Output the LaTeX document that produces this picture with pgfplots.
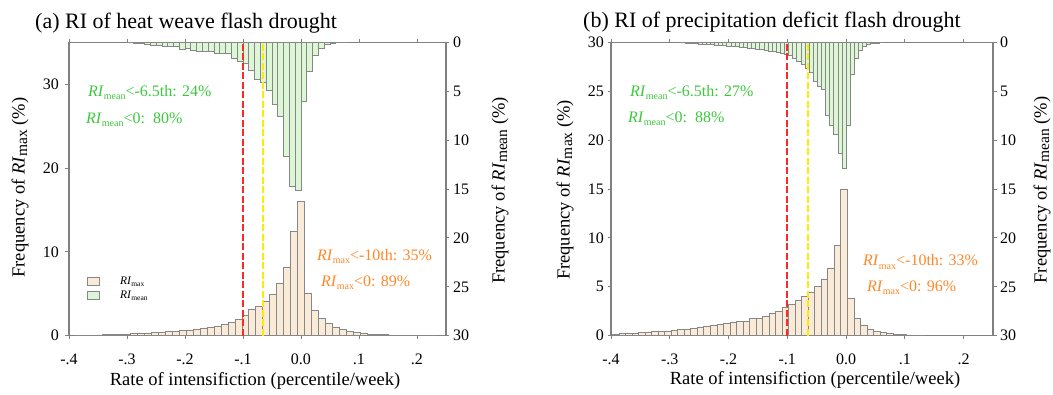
\documentclass[border=0pt]{standalone}
\usepackage{fontspec}
\setmainfont{Liberation Serif}
\usepackage{pgfplots}
\pgfplotsset{compat=1.18}

\definecolor{beige}{RGB}{250,234,216}
\definecolor{lgreen}{RGB}{220,246,214}
\definecolor{edgegray}{RGB}{135,135,135}
\definecolor{axgray}{RGB}{128,128,128}
\definecolor{txtgreen}{RGB}{60,200,60}
\definecolor{txtorange}{RGB}{255,135,40}
\definecolor{dashred}{RGB}{255,40,40}
\definecolor{dashyellow}{RGB}{255,235,0}

\newcommand{\lab}[1]{\textit{RI}\raisebox{-0.3ex}{\fontsize{15.5}{15.5}\selectfont #1}}
\newcommand{\ann}[1]{\textit{RI}\raisebox{-0.45ex}{\fontsize{10}{10}\selectfont #1}}
\newcommand{\leg}[1]{\textit{RI}\raisebox{-0.4ex}{\fontsize{7.5}{7.5}\selectfont #1}}

\pgfplotsset{
  base/.style={scale only axis, height=293.4pt, xmin=-0.4, xmax=0.25,
    axis line style={axgray, line width=1.1pt},
    tick style={axgray, line width=0.9pt}, tick align=outside, major tick length=3.5pt,
    ticklabel style={font=\fontsize{16}{16}\selectfont},
    /pgf/number format/assume math mode=true},
  lower/.style={base, ytick pos=left, xtick pos=both, xticklabel pos=lower,
    xtick={-0.4,-0.3,-0.2,-0.1,0,0.1,0.2}, xticklabels={-.4,-.3,-.2,-.1,0.0,.1,.2},
    xticklabel style={yshift=-11pt}},
  upper/.style={base, axis x line=none, axis y line*=right, y dir=reverse, ymin=0, ymax=30,
    ytick={0,5,...,30}},
  lines/.style={scale only axis, height=293.4pt, xmin=-0.4, xmax=0.25, ymin=0, ymax=1, hide axis},
  bbar/.style={ybar, bar shift=0pt, fill=beige, draw=edgegray, line width=0.6pt},
  gbar/.style={ybar, bar shift=0pt, fill=lgreen, draw=edgegray, line width=0.6pt},
  vred/.style={color=dashred, solid, line width=2pt, dash pattern=on 7pt off 2.5pt, mark=none},
  vyel/.style={color=dashyellow, solid, line width=2pt, dash pattern=on 7pt off 2.5pt, mark=none},
}

\begin{document}
\begin{tikzpicture}
\useasboundingbox (0pt,0pt) rectangle (1053pt,395pt);

% ---------------- panel (a) ----------------
\begin{axis}[lower, width=377pt, at={(69pt,59.3pt)}, anchor=south west,
  ymin=0, ymax=35, ytick={0,10,20,30}, yticklabel style={xshift=-3pt},
  legend style={draw=none, fill=none, at={(0.04,0.214)}, anchor=north west,
    font=\fontsize{11.5}{11.5}\selectfont, row sep=2.5pt, nodes={inner sep=1.5pt}},
  legend image code/.code={\draw[#1] (0pt,-4pt) rectangle (11.5pt,4pt); \path[draw=none] (0pt,0pt) -- (31pt,0pt);},
  legend cell align=left]
\addplot[bbar, bar width=0.012] coordinates {
(-0.384,0.02) (-0.372,0.04) (-0.360,0.07) (-0.348,0.10) (-0.336,0.12) (-0.324,0.15)
(-0.312,0.18) (-0.300,0.22) (-0.288,0.26) (-0.276,0.30) (-0.264,0.34) (-0.252,0.38)
(-0.240,0.42) (-0.228,0.48) (-0.216,0.55) (-0.204,0.62) (-0.192,0.70) (-0.180,0.80)
(-0.168,0.92) (-0.156,1.05) (-0.144,1.15) (-0.132,1.35) (-0.120,1.60) (-0.108,1.95)
(-0.096,2.45) (-0.084,3.10) (-0.072,3.50) (-0.060,4.05) (-0.048,4.95) (-0.036,6.20)
(-0.024,8.10) (-0.012,12.40) (0,16.00) (0.012,5.05) (0.024,3.00) (0.036,2.10)
(0.048,1.50) (0.060,1.05) (0.072,0.75) (0.084,0.50) (0.096,0.35) (0.108,0.25)
(0.120,0.20) (0.132,0.15) (0.144,0.12) (0.156,0.10) (0.168,0.08) (0.180,0.06)
(0.192,0.05) (0.204,0.04) (0.216,0.03) (0.228,0.02)};
\addlegendentry{\leg{max}}
\addlegendimage{fill=lgreen, draw=edgegray, line width=0.6pt}
\addlegendentry{\leg{mean}}
\end{axis}

\begin{axis}[upper, width=377pt, at={(69pt,59.3pt)}, anchor=south west]
\addplot[gbar, bar width=0.01] coordinates {
(-0.295,0.05) (-0.285,0.10) (-0.275,0.15) (-0.265,0.20) (-0.255,0.30) (-0.245,0.35)
(-0.235,0.40) (-0.225,0.45) (-0.215,0.45) (-0.205,0.70) (-0.195,0.60) (-0.185,0.85)
(-0.175,0.90) (-0.165,0.90) (-0.155,0.95) (-0.145,1.10) (-0.135,1.10) (-0.125,1.15)
(-0.115,1.60) (-0.105,1.90) (-0.095,2.10) (-0.085,2.90) (-0.075,3.80) (-0.065,4.10)
(-0.055,4.90) (-0.045,6.30) (-0.035,7.60) (-0.025,11.70) (-0.015,14.70) (-0.005,15.10)
(0.005,6.00) (0.015,3.00) (0.025,1.30) (0.035,0.60) (0.045,0.25) (0.055,0.10)
(0.065,0.05) (0.075,0.02)};
\end{axis}

\begin{axis}[lines, width=377pt, at={(69pt,59.3pt)}, anchor=south west]
\addplot[vred] coordinates {(-0.1,0) (-0.1,1)};
\addplot[vyel] coordinates {(-0.065,0) (-0.065,1)};
\end{axis}

% ---------------- panel (b) ----------------
\begin{axis}[lower, width=382pt, at={(611pt,59.3pt)}, anchor=south west,
  ymin=0, ymax=30, ytick={0,5,...,30}]
\addplot[bbar, bar width=0.0111] coordinates {
(-0.3920,0.17) (-0.3809,0.20) (-0.3698,0.24) (-0.3587,0.27) (-0.3476,0.30) (-0.3365,0.37)
(-0.3254,0.40) (-0.3143,0.47) (-0.3032,0.50) (-0.2921,0.57) (-0.2810,0.65) (-0.2699,0.70)
(-0.2588,0.80) (-0.2477,0.90) (-0.2366,1.00) (-0.2255,1.08) (-0.2144,1.15) (-0.2033,1.25)
(-0.1922,1.35) (-0.1811,1.48) (-0.1700,1.50) (-0.1589,1.75) (-0.1478,1.80) (-0.1367,2.00)
(-0.1256,2.25) (-0.1145,2.50) (-0.1034,2.95) (-0.0923,3.20) (-0.0812,3.60) (-0.0701,4.00)
(-0.0590,4.46) (-0.0479,5.07) (-0.0368,5.80) (-0.0257,6.90) (-0.0146,9.20) (-0.0035,15.00)
(0.0076,3.80) (0.0187,1.75) (0.0298,1.08) (0.0409,0.65) (0.0520,0.45) (0.0631,0.33)
(0.0742,0.24) (0.0853,0.15) (0.0964,0.10) (0.1075,0.08) (0.1186,0.05) (0.1297,0.03)};
\end{axis}

\begin{axis}[upper, width=382pt, at={(611pt,59.3pt)}, anchor=south west]
\addplot[gbar, bar width=0.007] coordinates {
(-0.2765,0.05) (-0.2695,0.10) (-0.2625,0.10) (-0.2555,0.15) (-0.2485,0.20) (-0.2415,0.20)
(-0.2345,0.25) (-0.2275,0.25) (-0.2205,0.30) (-0.2135,0.30) (-0.2065,0.35) (-0.1995,0.40)
(-0.1925,0.40) (-0.1855,0.45) (-0.1785,0.50) (-0.1715,0.50) (-0.1645,0.60) (-0.1575,0.60)
(-0.1505,0.70) (-0.1435,0.75) (-0.1365,0.80) (-0.1295,0.90) (-0.1225,0.90) (-0.1155,1.00)
(-0.1085,1.10) (-0.1015,1.20) (-0.0945,1.30) (-0.0875,1.60) (-0.0805,1.90) (-0.0735,2.30)
(-0.0665,2.70) (-0.0595,3.10) (-0.0525,4.00) (-0.0455,4.50) (-0.0385,4.80) (-0.0315,7.50)
(-0.0245,8.50) (-0.0175,9.40) (-0.0105,11.30) (-0.0035,12.90) (0.0035,8.50) (0.0105,3.30)
(0.0175,1.60) (0.0245,0.85) (0.0315,0.45) (0.0385,0.25) (0.0455,0.15) (0.0525,0.10)
(0.0595,0.05)};
\end{axis}

\begin{axis}[lines, width=382pt, at={(611pt,59.3pt)}, anchor=south west]
\addplot[vred] coordinates {(-0.1,0) (-0.1,1)};
\addplot[vyel] coordinates {(-0.065,0) (-0.065,1)};
\end{axis}

% ---------------- texts ----------------
\node[anchor=base west, inner sep=0pt, font=\fontsize{22}{22}\selectfont] at (35pt,366pt) {(a) RI of heat weave flash drought};
\node[anchor=base west, inner sep=0pt, font=\fontsize{22}{22}\selectfont] at (583pt,367pt) {(b) RI of precipitation deficit flash drought};

\node[anchor=base, inner sep=0pt, font=\fontsize{18.5}{18.5}\selectfont] at (255pt,9pt) {Rate of intensifiction (percentile/week)};
\node[anchor=base, inner sep=0pt, font=\fontsize{18.5}{18.5}\selectfont] at (815pt,10pt) {Rate of intensifiction (percentile/week)};

\node[rotate=90, inner sep=0pt, font=\fontsize{18.5}{18.5}\selectfont] at (20pt,207.5pt) {Frequency of \lab{max} (\%)};
\node[rotate=90, inner sep=0pt, font=\fontsize{18.5}{18.5}\selectfont] at (500pt,204.5pt) {Frequency of \lab{mean} (\%)};
\node[rotate=90, inner sep=0pt, font=\fontsize{18.5}{18.5}\selectfont] at (565pt,205pt) {Frequency of \lab{max} (\%)};
\node[rotate=90, inner sep=0pt, font=\fontsize{18.5}{18.5}\selectfont] at (1042pt,205pt) {Frequency of \lab{mean} (\%)};

\node[anchor=base west, inner sep=0pt, text=txtgreen, font=\fontsize{16}{16}\selectfont] at (88pt,298.3pt) {\ann{mean}<-6.5th: 24\%};
\node[anchor=base west, inner sep=0pt, text=txtgreen, font=\fontsize{16}{16}\selectfont] at (86pt,271.7pt) {\ann{mean}<0:\ \ 80\%};
\node[anchor=base west, inner sep=0pt, text=txtorange, font=\fontsize{16}{16}\selectfont] at (317pt,134.3pt) {\ann{max}<-10th: 35\%};
\node[anchor=base west, inner sep=0pt, text=txtorange, font=\fontsize{16}{16}\selectfont] at (321pt,108.3pt) {\ann{max}<0: 89\%};

\node[anchor=base west, inner sep=0pt, text=txtgreen, font=\fontsize{16}{16}\selectfont] at (630pt,298.3pt) {\ann{mean}<-6.5th: 27\%};
\node[anchor=base west, inner sep=0pt, text=txtgreen, font=\fontsize{16}{16}\selectfont] at (628pt,272.3pt) {\ann{mean}<0:\ \ 88\%};
\node[anchor=base west, inner sep=0pt, text=txtorange, font=\fontsize{16}{16}\selectfont] at (863pt,129pt) {\ann{max}<-10th: 33\%};
\node[anchor=base west, inner sep=0pt, text=txtorange, font=\fontsize{16}{16}\selectfont] at (867pt,103.3pt) {\ann{max}<0: 96\%};
\end{tikzpicture}
\end{document}
